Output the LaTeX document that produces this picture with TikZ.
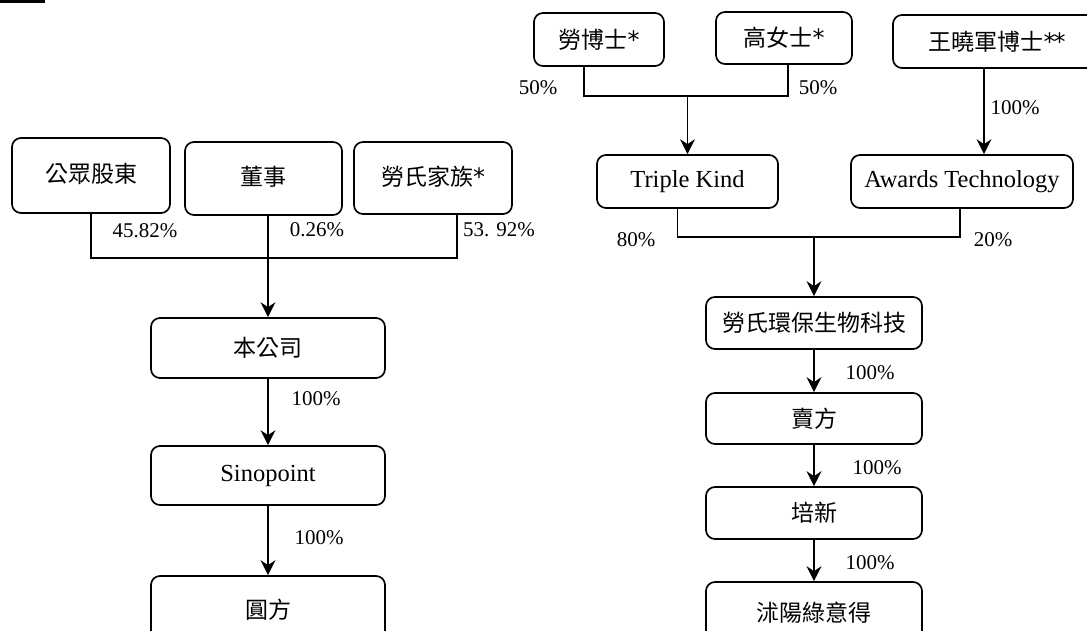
\documentclass[tikz,border=0pt]{standalone}
\usepackage{fontspec}
\setmainfont{Liberation Serif}
\newfontfamily\cjk{Noto Sans CJK TC}
\newfontfamily\astfont{DejaVu Sans}
\newcommand{\myast}{{\astfont\fontsize{24}{26}\selectfont *}}
\usetikzlibrary{arrows.meta}
\begin{document}
\begin{tikzpicture}[x=1pt,y=-1pt,
  box/.style={draw, line width=1.7pt, rounded corners=9pt, inner sep=0pt, font=\fontsize{24.5}{28}\selectfont},
  cbox/.style={box, font=\fontsize{23}{27}\selectfont\cjk},
  lab/.style={inner sep=0pt, font=\fontsize{21}{24}\selectfont},
  conn/.style={line width=1.7pt},
  arr/.style={line width=1.7pt, -{Stealth[length=15pt,width=15pt,inset=5pt]}}]
\clip (0,0) rectangle (1087,631);
\fill[white] (0,0) rectangle (1087,631);
% top-left rule
\coordinate (r1) at (0,1.5);
\coordinate (r2) at (45,1.5);
\draw[line width=3pt] (r1) -- (r2);

% ---------- left tree ----------
\node[cbox, minimum width=158pt, minimum height=75pt] (pub) at (91,175.5) {\raisebox{5pt}{公眾股東}};
\node[cbox, minimum width=157pt, minimum height=73pt] (dir) at (263.5,178.5) {\raisebox{5pt}{董事}};
\node[cbox, minimum width=158pt, minimum height=72pt] (fam) at (433,178) {\raisebox{5pt}{勞氏家族\myast}};
\node[cbox, minimum width=234pt, minimum height=60pt] (com) at (268,348) {本公司};
\node[box, minimum width=234pt, minimum height=59pt] (sin) at (268,475.5) {Sinopoint};
\node[cbox, minimum width=234pt, minimum height=70pt] (yf) at (268,611) {\raisebox{4pt}{圓方}};

\coordinate (fd) at ([xshift=24pt]fam.south);
\coordinate (j1) at (268,258);
\draw[conn] (pub.south) |- (fd |- j1) -- (fd);
\draw[arr] (dir.south -| com.north) -- (com.north);
\draw[arr] (com.south) -- (sin.north);
\draw[arr] (sin.south) -- (yf.north);

\node[lab] (l1) at (145,231) {45.82\%};
\node[lab] (l2) at (317,230) {0.26\%};
\node[lab] (l3) at (499,230) {53. 92\%};
\node[lab] (l4) at (316,399) {100\%};
\node[lab] (l5) at (319,538) {100\%};

% ---------- right tree ----------
\node[cbox, minimum width=130pt, minimum height=53pt] (lao) at (599,39.5) {勞博士\myast};
\node[cbox, minimum width=136pt, minimum height=52pt] (gao) at (784,38) {高女士\myast};
\node[cbox, minimum width=208pt, minimum height=53pt] (wang) at (997,41.5) {王曉軍博士\myast\kern-2pt\myast};
\node[box, minimum width=181pt, minimum height=53pt] (tk) at (687.5,181.5) {Triple Kind};
\node[box, minimum width=222pt, minimum height=53pt] (aw) at (962,181.5) {Awards Technology};
\node[cbox, minimum width=216pt, minimum height=52pt] (eco) at (814,323) {勞氏環保生物科技};
\node[cbox, minimum width=216pt, minimum height=51pt] (sel) at (814,418.5) {賣方};
\node[cbox, minimum width=216pt, minimum height=52pt] (px) at (814,513) {培新};
\node[cbox, minimum width=216pt, minimum height=64pt] (sy) at (814,614) {\raisebox{4pt}{沭陽綠意得}};

\coordinate (ld) at ([xshift=-15pt]lao.south);
\coordinate (gd) at ([xshift=4pt]gao.south);
\coordinate (j2) at (687.5,96);
\draw[conn] (ld) |- (gd |- j2) -- (gd);
\draw[arr] (j2) -- (tk.north);

\coordinate (wd) at ([xshift=-13pt]wang.south);
\draw[arr] (wd) -- (wd |- aw.north);

\coordinate (td) at ([xshift=-10pt]tk.south);
\coordinate (ad) at ([xshift=-2pt]aw.south);
\coordinate (j3) at (814,237);
\draw[conn] (td) |- (ad |- j3) -- (ad);
\draw[arr] (j3) -- (eco.north);
\draw[arr] (eco.south) -- (sel.north);
\draw[arr] (sel.south) -- (px.north);
\draw[arr] (px.south) -- (sy.north);

\node[lab] (m1) at (538,88) {50\%};
\node[lab] (m2) at (818,88) {50\%};
\node[lab] (m3) at (1015,108) {100\%};
\node[lab] (m4) at (636,240) {80\%};
\node[lab] (m5) at (993,240) {20\%};
\node[lab] (m6) at (870,373) {100\%};
\node[lab] (m7) at (877,468) {100\%};
\node[lab] (m8) at (870,563) {100\%};
\end{tikzpicture}
\end{document}
